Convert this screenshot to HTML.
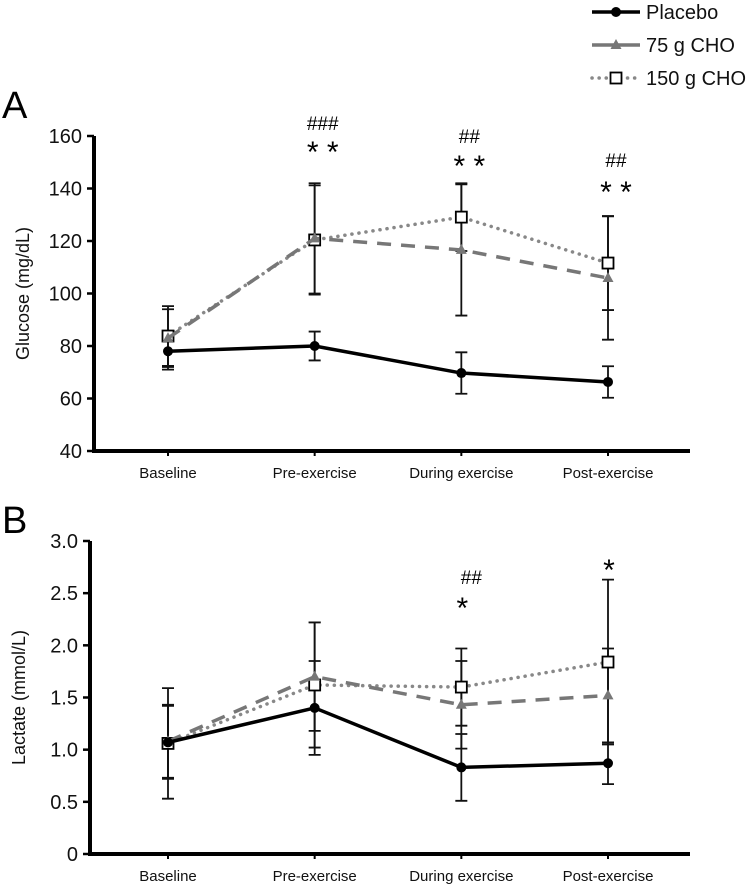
<!DOCTYPE html>
<html><head><meta charset="utf-8"><style>
body{margin:0;background:#fff;font-family:"Liberation Sans",sans-serif}
svg text{font-family:"Liberation Sans",sans-serif}
</style></head><body>
<svg id="c" width="754" height="889" viewBox="0 0 754 889" xmlns="http://www.w3.org/2000/svg"></svg>
<script>
const categories=["Baseline","Pre-exercise","During exercise","Post-exercise"];
const seriesNames=["Placebo","75 g CHO","150 g CHO"];
const gluPlacebo=[78,80,69.7,66.3];
const gluPlaceboErr=[7,5.5,7.9,6];
const glu75=[83,121,116.6,105.9];
const glu75Err=[11,21,25,23.5];
const glu150=[83.8,120.4,129.1,111.6];
const glu150Err=[11.4,20.8,12.9,17.9];
const gluTicks=[40,60,80,100,120,140,160];
const lacPlacebo=[1.07,1.40,0.83,0.87];
const lacPlaceboErr=[0.35,0.45,0.32,0.2];
const lac75=[1.08,1.70,1.43,1.52];
const lac75Err=[0.35,0.52,0.42,0.45];
const lac150=[1.06,1.62,1.60,1.84];
const lac150Err=[0.53,0.6,0.37,0.79];
const lacTicks=[0,0.5,1.0,1.5,2.0,2.5,3.0];
const lacTickLabels=["0","0.5","1.0","1.5","2.0","2.5","3.0"];
const annA=[["###","* *"],["##","* *"],["##","* *"]];

const NS="http://www.w3.org/2000/svg";
const svg=document.getElementById('c');
function el(t,a,p){const e=document.createElementNS(NS,t);for(const k in a)e.setAttribute(k,a[k]);(p||svg).appendChild(e);return e;}
const catX=[168,315,462,608];
function xPos(i){return catX[0]+(catX[3]-catX[0])*i/(categories.length-1);}
const styles=[{stroke:"#000",dash:"",w:3.5,m:"circle"},{stroke:"#777",dash:"14 10",w:3.5,m:"tri"},{stroke:"#888",dash:"0.1 7",w:3.5,m:"sq"}];

function marker(g,m,x,y,name){
  let e;
  if(m==="circle"){e=el('circle',{cx:x,cy:y,r:5,fill:"#000"},g);}
  else if(m==="tri"){e=el('polygon',{points:`${x},${y-6} ${x-5.5},${y+4} ${x+5.5},${y+4}`,fill:"#777"},g);}
  else{e=el('rect',{x:x-5.5,y:y-5.5,width:11,height:11,fill:"#fff",stroke:"#000","stroke-width":1.8},g);}
  
  
}

function panel(o){
  const {axX,yTop,yBot,vMin,vMax,ticks,tickLabels,series,errs,title,letter,letterY,id}=o;
  const yS=v=>yBot-(v-vMin)/(vMax-vMin)*(yBot-yTop);
  const g=el('g',{});
  
  
  const L=el('text',{x:2,y:letterY,"font-size":38,fill:"#000"},g);L.textContent=letter;
  
  
  const ax=el('path',{d:`M${axX},${yTop} V${yBot} H690`,stroke:"#000","stroke-width":4,fill:"none"},g);
  
  
  ticks.forEach((t,i)=>{
    const y=yS(t);
    el('line',{x1:axX-7,x2:axX,y1:y,y2:y,stroke:"#000","stroke-width":2.5},g);
    const tx=el('text',{x:axX-12,y:y+7,"font-size":20,"text-anchor":"end",fill:"#111"},g);
    tx.textContent=tickLabels?tickLabels[i]:t;
    
    
  });
  categories.forEach((c,i)=>{
    const x=xPos(i);
    el('line',{x1:x,x2:x,y1:yBot,y2:yBot+5,stroke:"#000","stroke-width":2},g);
    const tx=el('text',{x:x,y:yBot+27,"font-size":15,"text-anchor":"middle",fill:"#111"},g);
    tx.textContent=c;
    
    
  });
  const yt=el('text',{transform:`translate(${axX-65},${(yTop+yBot)/2}) rotate(-90)`,"font-size":18,"text-anchor":"middle",fill:"#111"},g);
  yt.textContent=title;
  
  
  series.forEach((s,si)=>{
    s.forEach((v,i)=>{
      const x=xPos(i),e=errs[si][i];
      const p=el('path',{d:`M${x},${yS(v-e)} V${yS(v+e)} M${x-6},${yS(v-e)} H${x+6} M${x-6},${yS(v+e)} H${x+6}`,stroke:"#111","stroke-width":1.8,fill:"none"},g);
      
      
    });
  });
  [2,1,0].forEach(si=>{
    const st=styles[si];
    const d=series[si].map((v,i)=>(i?"L":"M")+xPos(i)+","+yS(v)).join(" ");
    const ln=el('path',{d:d,stroke:st.stroke,"stroke-width":st.w,fill:"none","stroke-dasharray":st.dash,"stroke-linecap":si===2?"round":"butt"},g);
    
    
    series[si].forEach((v,i)=>marker(g,st.m,xPos(i),yS(v),'point'));
  });
  return g;
}

panel({axX:94,yTop:136,yBot:451,vMin:40,vMax:160,ticks:gluTicks,series:[gluPlacebo,glu75,glu150],errs:[gluPlaceboErr,glu75Err,glu150Err],title:"Glucose (mg/dL)",letter:"A",letterY:118,id:"panel-a"});
panel({axX:90,yTop:541,yBot:854,vMin:0,vMax:3,ticks:lacTicks,tickLabels:lacTickLabels,series:[lacPlacebo,lac75,lac150],errs:[lacPlaceboErr,lac75Err,lac150Err],title:"Lactate (mmol/L)",letter:"B",letterY:533,id:"panel-b"});

function ann(x,y,t,size,name){const e=el('text',{x:x,y:y,"font-size":size,"text-anchor":"middle",fill:"#000","font-family":"Liberation Serif"});e.textContent=t;

}
const annY=[[130,162],[143,176],[167,202]];
annA.forEach((a,i)=>{ann(xPos(i+1)+8,annY[i][0],a[0],19,'hash-annotation');ann(xPos(i+1)+8,annY[i][1],a[1],30,'star-annotation');});
ann(xPos(2)+10,584,"##",19,'hash-annotation');
ann(xPos(2)+1,618,"*",30,'star-annotation');
ann(xPos(3)+1,580,"*",30,'star-annotation');

const lg=el('g',{});


[12,45,78].forEach((y,i)=>{
  const st=styles[i];
  el('line',{x1:592,x2:640,y1:y,y2:y,stroke:st.stroke,"stroke-width":st.w,"stroke-dasharray":i===2?"0.1 7":"","stroke-linecap":i===2?"round":"butt"},lg);
  marker(lg,st.m,616,y,'legend-marker');
  const t=el('text',{x:646,y:y+7,"font-size":20,fill:"#111"},lg);t.textContent=seriesNames[i];
  
  
});
</script>
</body></html>
